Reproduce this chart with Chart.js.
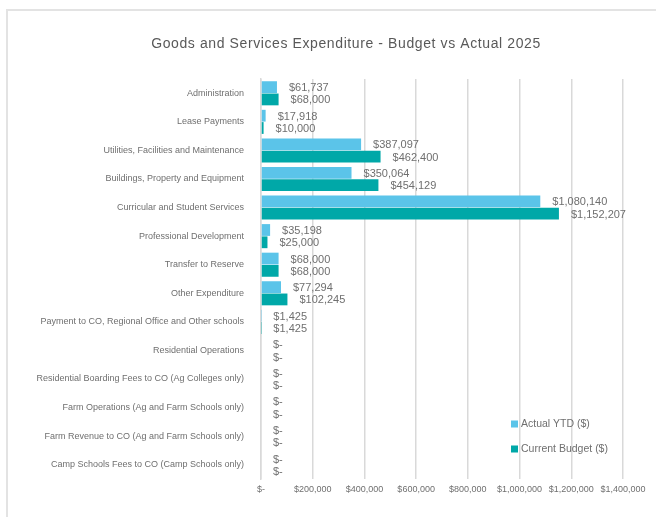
<!DOCTYPE html>
<html>
<head>
<meta charset="utf-8">
<script src="https://cdn.jsdelivr.net/npm/chart.js@4"></script>
<style>
html,body{margin:0;padding:0;background:#fff;overflow:hidden;}
#wrap{position:relative;width:656px;height:517px;overflow:hidden;}
#frame{position:absolute;left:6px;top:9px;width:700px;height:600px;border-left:2px solid #e3e3e3;border-top:2px solid #e3e3e3;box-sizing:border-box;}
canvas{position:absolute;left:0;top:0;}
</style>
</head>
<body>
<div id="wrap"><div id="frame"></div><canvas id="c" width="656" height="517"></canvas></div>
<script>
const chartTitle = 'Goods and Services Expenditure - Budget vs Actual 2025';
const categories = [
  'Administration',
  'Lease Payments',
  'Utilities, Facilities and Maintenance',
  'Buildings, Property and Equipment',
  'Curricular and Student Services',
  'Professional Development',
  'Transfer to Reserve',
  'Other Expenditure',
  'Payment to CO, Regional Office and Other schools',
  'Residential Operations',
  'Residential Boarding Fees to CO (Ag Colleges only)',
  'Farm Operations (Ag and Farm Schools only)',
  'Farm Revenue to CO (Ag and Farm Schools only)',
  'Camp Schools Fees to CO (Camp Schools only)'
];
const actualYTD = [61737, 17918, 387097, 350064, 1080140, 35198, 68000, 77294, 1425, 0, 0, 0, 0, 0];
const currentBudget = [68000, 10000, 462400, 454129, 1152207, 25000, 68000, 102245, 1425, 0, 0, 0, 0, 0];
const seriesNames = ['Actual YTD ($)', 'Current Budget ($)'];
const xTicks = [0, 200000, 400000, 600000, 800000, 1000000, 1200000, 1400000];

const FONT = '"Liberation Sans", Arial, sans-serif';
const GREY = '#595959';
const LGREY = '#6f6f6f';
const COL_ACTUAL = '#5BC4E9';
const COL_BUDGET = '#00A8A8';

function money(v){ return v === 0 ? '$-' : '$' + v.toLocaleString('en-US'); }

const labelPlugin = {
  id: 'barLabels',
  afterDatasetsDraw(chart){
    const ctx = chart.ctx;
    ctx.save();
    ctx.font = '11px ' + FONT;
    ctx.fillStyle = LGREY;
    ctx.textAlign = 'left';
    ctx.textBaseline = 'middle';
    chart.data.datasets.forEach((ds, di) => {
      const meta = chart.getDatasetMeta(di);
      meta.data.forEach((bar, i) => {
        ctx.fillText(money(ds.data[i]), bar.x + 12, bar.y + 1);
      });
    });
    ctx.restore();
  },
  afterDraw(chart){
    const ctx = chart.ctx;
    ctx.save();
    ctx.font = '14px ' + FONT;
    ctx.fillStyle = GREY;
    ctx.textAlign = 'center';
    ctx.textBaseline = 'middle';
    if ('letterSpacing' in ctx) ctx.letterSpacing = '0.6px';
    ctx.fillText(chartTitle, 346, 44);
    if ('letterSpacing' in ctx) ctx.letterSpacing = '0px';
    ctx.font = '10.5px ' + FONT;
    ctx.textAlign = 'left';
    chart.data.datasets.forEach((ds, di) => {
      const y = 424 + di * 25;
      ctx.fillStyle = ds.backgroundColor;
      ctx.fillRect(511, y - 3.5, 7, 7);
      ctx.fillStyle = LGREY;
      ctx.fillText(ds.label, 521, y);
    });
    ctx.restore();
  }
};

new Chart(document.getElementById('c'), {
  type: 'bar',
  data: {
    labels: categories,
    datasets: [
      { label: seriesNames[0], data: actualYTD, backgroundColor: COL_ACTUAL },
      { label: seriesNames[1], data: currentBudget, backgroundColor: COL_BUDGET }
    ]
  },
  options: {
    indexAxis: 'y',
    responsive: false,
    animation: false,
    devicePixelRatio: 1,
    layout: { padding: { top: 79, right: 33, left: 0, bottom: 0 } },
    datasets: { bar: { categoryPercentage: 0.86, barPercentage: 0.96 } },
    plugins: { legend: { display: false }, title: { display: false }, tooltip: { enabled: false } },
    scales: {
      x: {
        min: 0, max: 1400000,
        afterBuildTicks(s){ s.ticks = xTicks.map(v => ({ value: v })); },
        afterFit(s){ s.height = 38; },
        grid: { color: '#d9d9d9', lineWidth: 1.5, drawTicks: false },
        border: { display: false },
        ticks: { padding: 5, color: LGREY, font: { size: 9, family: FONT }, callback: v => money(v), maxRotation: 0, autoSkip: false }
      },
      y: {
        afterFit(s){ s.width = 261; },
        grid: { display: false },
        border: { display: true, color: '#d9d9d9', width: 1.5 },
        ticks: { padding: 9, color: LGREY, font: { size: 9, family: FONT }, autoSkip: false }
      }
    }
  },
  plugins: [labelPlugin]
});
</script>
</body>
</html>
